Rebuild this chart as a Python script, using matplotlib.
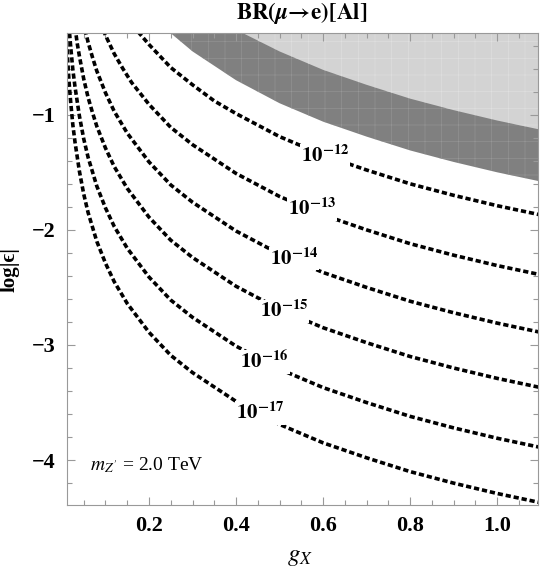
import numpy as np
import matplotlib
matplotlib.use('Agg')
import matplotlib.pyplot as plt
from matplotlib.ticker import MultipleLocator

plt.rcParams['font.family'] = ['Liberation Serif', 'DejaVu Serif']
plt.rcParams['mathtext.fontset'] = 'stix'
plt.rcParams['hatch.linewidth'] = 0.4

# Data: contour lines of BR(mu->e)[Al] in the (g_X, log|eps|) plane
g_12 = [0.175, 0.2, 0.25, 0.3, 0.35, 0.4, 0.5, 0.6, 0.7, 0.8, 0.9, 1.0, 1.1]
eps_12 = [-0.28, -0.39, -0.59, -0.74, -0.88, -0.99, -1.19, -1.35, -1.48, -1.60, -1.70, -1.79, -1.87]

g_13 = [0.095, 0.1, 0.12, 0.14, 0.16, 0.2, 0.25, 0.3, 0.4, 0.5, 0.6, 0.7, 0.8, 0.9, 1.0, 1.1]
eps_13 = [-0.265, -0.31, -0.47, -0.60, -0.72, -0.91, -1.11, -1.26, -1.51, -1.71, -1.87, -2.00, -2.12, -2.22, -2.31, -2.39]

g_14 = [0.053, 0.06, 0.07, 0.08, 0.1, 0.12, 0.15, 0.2, 0.25, 0.3, 0.4, 0.5, 0.6, 0.7, 0.8, 0.9, 1.0, 1.1]
eps_14 = [-0.26, -0.37, -0.50, -0.62, -0.81, -0.97, -1.16, -1.41, -1.61, -1.76, -2.01, -2.21, -2.37, -2.50, -2.62, -2.72, -2.81, -2.89]

g_15 = [0.03, 0.035, 0.04, 0.05, 0.06, 0.07, 0.08, 0.1, 0.12, 0.15, 0.2, 0.25, 0.3, 0.4, 0.5, 0.6, 0.7, 0.8, 0.9, 1.0, 1.1]
eps_15 = [-0.24, -0.38, -0.49, -0.69, -0.85, -0.98, -1.10, -1.29, -1.45, -1.64, -1.89, -2.09, -2.24, -2.49, -2.69, -2.85, -2.98, -3.10, -3.20, -3.29, -3.37]

g_16 = [0.016, 0.018, 0.02, 0.025, 0.03, 0.04, 0.05, 0.06, 0.08, 0.1, 0.12, 0.15, 0.2, 0.25, 0.3, 0.4, 0.5, 0.6, 0.7, 0.8, 0.9, 1.0, 1.1]
eps_16 = [-0.22, -0.32, -0.41, -0.61, -0.76, -1.01, -1.21, -1.37, -1.62, -1.81, -1.97, -2.16, -2.41, -2.61, -2.76, -3.01, -3.21, -3.37, -3.50, -3.62, -3.72, -3.81, -3.89]

g_17 = [0.01, 0.012, 0.014, 0.016, 0.018, 0.02, 0.025, 0.03, 0.04, 0.05, 0.06, 0.08, 0.1, 0.12, 0.15, 0.2, 0.25, 0.3, 0.4, 0.5, 0.6, 0.7, 0.8, 0.9, 1.0, 1.1]
eps_17 = [-0.29, -0.45, -0.58, -0.70, -0.80, -0.89, -1.09, -1.24, -1.49, -1.69, -1.85, -2.10, -2.29, -2.45, -2.64, -2.89, -3.09, -3.24, -3.49, -3.69, -3.85, -3.98, -4.10, -4.20, -4.29, -4.37]

curves = [(g_12, eps_12), (g_13, eps_13), (g_14, eps_14),
          (g_15, eps_15), (g_16, eps_16), (g_17, eps_17)]
curve_labels = [r'$\mathbf{10}^{\mathbf{-12}}$', r'$\mathbf{10}^{\mathbf{-13}}$', r'$\mathbf{10}^{\mathbf{-14}}$',
                r'$\mathbf{10}^{\mathbf{-15}}$', r'$\mathbf{10}^{\mathbf{-16}}$', r'$\mathbf{10}^{\mathbf{-17}}$']
label_g = [0.605, 0.575, 0.533, 0.51, 0.465, 0.455]
label_eps = [-1.36, -1.82, -2.25, -2.71, -3.15, -3.59]

# excluded regions (dark band and light region above it)
band_g = [0.24, 0.3, 0.4, 0.5, 0.6, 0.7, 0.8, 0.9, 1.0, 1.1]
band_eps = [-0.26, -0.45, -0.70, -0.90, -1.06, -1.19, -1.31, -1.41, -1.50, -1.58]
light_g = [0.41, 0.5, 0.6, 0.7, 0.8, 0.9, 1.0, 1.1]
light_eps = [-0.28, -0.45, -0.61, -0.74, -0.86, -0.96, -1.05, -1.13]

xtick_vals = [0.2, 0.4, 0.6, 0.8, 1.0]
xtick_labels = ['0.2', '0.4', '0.6', '0.8', '1.0']
ytick_vals = [-4, -3, -2, -1]
ytick_labels = ['\u22124', '\u22123', '\u22122', '\u22121']

fig = plt.figure(figsize=(5.42, 5.69), dpi=100)
ax = fig.add_axes([0.1236, 0.1125, 0.869, 0.8295])

ax.fill_between(band_g, band_eps, 0, facecolor='#808080', edgecolor='#979797',
                hatch='+', linewidth=0)
ax.fill_between(light_g, light_eps, 0, facecolor='#d3d3d3', edgecolor='#e0e0e0',
                hatch='+', linewidth=0)

for (g, eps) in curves:
    ax.plot(g, eps, color='black', lw=2.6, linestyle=(0, (1.45, 0.8)),
            dash_capstyle='butt')

for txt, gx, ey in zip(curve_labels, label_g, label_eps):
    ax.text(gx, ey, txt, fontsize=15, ha='center', va='center',
            bbox=dict(boxstyle='square,pad=0.05', fc='white', ec='none'))

ax.text(0.064, -4.04, r'$m_{Z^{\prime}}$ = 2.0 TeV', fontsize=14, ha='left', va='center')

ax.set_xlim(0.0115, 1.094)
ax.set_ylim(-4.39, -0.29)

ax.set_xticks(xtick_vals)
ax.set_xticklabels(xtick_labels, fontsize=16, fontweight='bold')
ax.set_yticks(ytick_vals)
ax.set_yticklabels(ytick_labels, fontsize=16, fontweight='bold')
ax.xaxis.set_minor_locator(MultipleLocator(0.05))
ax.yaxis.set_minor_locator(MultipleLocator(0.2))
ax.tick_params(which='both', direction='in', top=True, right=True, color='#999999', width=0.8)
ax.tick_params(which='major', length=6, pad=8)
ax.tick_params(which='minor', length=3.5)
for sp in ax.spines.values():
    sp.set_color('#999999')
    sp.set_linewidth(0.8)

fig.text(0.557, 0.978, r'$\mathbf{BR(}\mathbfit{\mu}\mathbf{\!\rightarrow\! e)[Al]}$', fontsize=16.5,
         ha='center', va='center')
fig.text(0.554, 0.021, r'$g_X$', fontsize=18, ha='center', va='center')
fig.text(0.017, 0.527, 'log|\u03f5|', fontsize=15, fontweight='bold',
         rotation=90, ha='center', va='center')

fig.savefig('out.png', dpi=100)
